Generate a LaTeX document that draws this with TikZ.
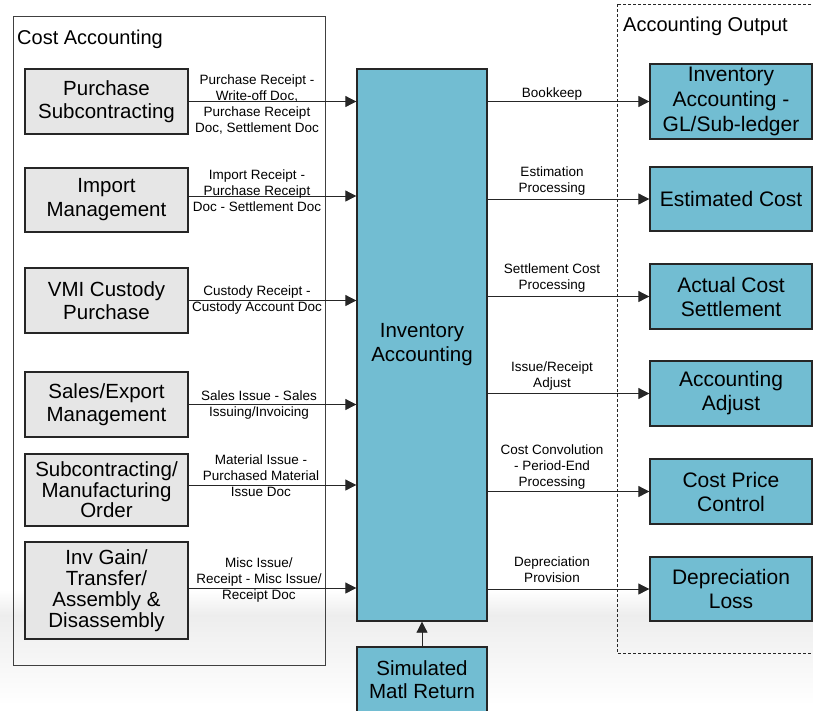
\documentclass[tikz,border=0pt]{standalone}
\usepackage{fontspec}
\setmainfont{Liberation Sans}
\usetikzlibrary{arrows.meta}
\definecolor{srcgray}{RGB}{230,230,230}
\definecolor{accblue}{RGB}{114,189,210}

\begin{document}
\begin{tikzpicture}[x=1pt,y=-1pt,
    srcbox/.style={draw=black!85,line width=1.3pt,fill=srcgray,inner sep=0pt,
        minimum width=163pt,align=center,font=\fontsize{20.5}{23}\selectfont},
    accbox/.style={srcbox,fill=accblue,minimum width=130pt},
    outbox/.style={srcbox,fill=accblue,minimum width=162pt,font=\fontsize{21}{24}\selectfont},
    flow/.style={draw=black!85,line width=0.8pt,-{Triangle[length=11pt,width=11pt]}},
    lbl/.style={align=center,inner sep=0pt,font=\fontsize{13.5}{16}\selectfont}]
\useasboundingbox (0,0) rectangle (813,710);

%draws the faint band behind the bottom
\shade[top color=white,bottom color=black!7,draw=none] (0,590) rectangle (813,615);
\shade[top color=black!7,bottom color=white,draw=none] (0,615) rectangle (813,705);

%draws the two group frames
\draw[black!75,line width=0.8pt] (13,16) rectangle (325,665);
\draw[black!85,line width=0.8pt,dash pattern=on 3pt off 2pt] (617,4) rectangle (830,653);
\node[anchor=west,inner sep=0pt,font=\fontsize{20}{23}\selectfont] (costacc) at (17,39) {Cost Accounting};
\node[anchor=west,inner sep=0pt,font=\fontsize{20}{23}\selectfont] (accout) at (623,26) {Accounting Output};

%draws the source boxes
\node[srcbox,minimum height=65pt] (purch) at (106.5,101.5) {Purchase\\Subcontracting};
\node[srcbox,minimum height=64pt,font=\fontsize{20.5}{24}\selectfont] (import) at (106.5,200) {Import\\Management};
\node[srcbox,minimum height=65pt] (vmi) at (106.5,300.5) {VMI Custody\\Purchase};
\node[srcbox,minimum height=65pt] (sales) at (106.5,404.5) {Sales/Export\\Management};
\node[srcbox,minimum height=72pt,font=\fontsize{20.5}{20.5}\selectfont] (subcon) at (106.5,490) {Subcontracting/\\Manufacturing\\Order};
\node[srcbox,minimum height=97pt,font=\fontsize{20.5}{21}\selectfont] (invgain) at (106.5,590.5) {Inv Gain/\\Transfer/\\Assembly \&\\Disassembly};

%draws the inventory accounting boxes
\node[accbox,minimum height=552pt,font=\fontsize{20.5}{24}\selectfont] (invacc) at (422,345) {Inventory\\Accounting};
\node[accbox,minimum height=65pt] (simret) at (422,679.5) {Simulated\\Matl Return};

%draws the output boxes
\node[outbox,minimum height=75pt,font=\fontsize{21}{25}\selectfont] (glout) at (731,101.5) {Inventory\\Accounting -\\GL/Sub-ledger};
\node[outbox,minimum height=64pt] (estcost) at (731,199) {Estimated Cost};
\node[outbox,minimum height=65pt] (actcost) at (731,296.5) {Actual Cost\\Settlement};
\node[outbox,minimum height=65pt] (accadj) at (731,393.5) {Accounting\\Adjust};
\node[outbox,minimum height=65pt] (costctl) at (731,491.5) {Cost Price\\Control};
\node[outbox,minimum height=64pt] (deprloss) at (731,589) {Depreciation\\Loss};

%draws the incoming flows
\draw[flow] (purch.east) -- (purch.east -| invacc.west);
\draw[flow] ([yshift=4pt]import.east) -- ([yshift=4pt]import.east -| invacc.west);
\draw[flow] (vmi.east) -- (vmi.east -| invacc.west);
\draw[flow] (sales.east) -- (sales.east -| invacc.west);
\draw[flow] ([yshift=5pt]subcon.east) -- ([yshift=5pt]subcon.east -| invacc.west);
\draw[flow] ([yshift=2.5pt]invgain.east) -- ([yshift=2.5pt]invgain.east -| invacc.west);
\draw[flow] (simret) -- (invacc);

%draws the outgoing flows
\foreach \out in {glout,estcost,actcost,accadj,costctl,deprloss}
    \draw[flow] (invacc.east |- \out.west) -- (\out.west);

%label incoming flows
\node[lbl] (lpurch) at (257,104.5) {Purchase Receipt -\\Write-off Doc,\\Purchase Receipt\\Doc, Settlement Doc};
\node[lbl] (limport) at (257,191) {Import Receipt -\\Purchase Receipt\\Doc - Settlement Doc};
\node[lbl] (lvmi) at (257,300.5) {Custody Receipt -\\Custody Account Doc};
\node[lbl] (lsales) at (259,404.5) {Sales Issue - Sales\\Issuing/Invoicing};
\node[lbl] (lsubcon) at (261,475.5) {Material Issue -\\Purchased Material\\Issue Doc};
\node[lbl] (linvgain) at (259,580) {Misc Issue/\\Receipt - Misc Issue/\\Receipt Doc};

%label outgoing flows
\node[lbl] (lglout) at (552,94) {Bookkeep};
\node[lbl] (lestcost) at (552,181.5) {Estimation\\Processing};
\node[lbl] (lactcost) at (552,278.5) {Settlement Cost\\Processing};
\node[lbl] (laccadj) at (552,376) {Issue/Receipt\\Adjust};
\node[lbl] (lcostctl) at (552,466.5) {Cost Convolution\\- Period-End\\Processing};
\node[lbl] (ldeprloss) at (552,570) {Depreciation\\Provision};

\end{tikzpicture}
\end{document}
